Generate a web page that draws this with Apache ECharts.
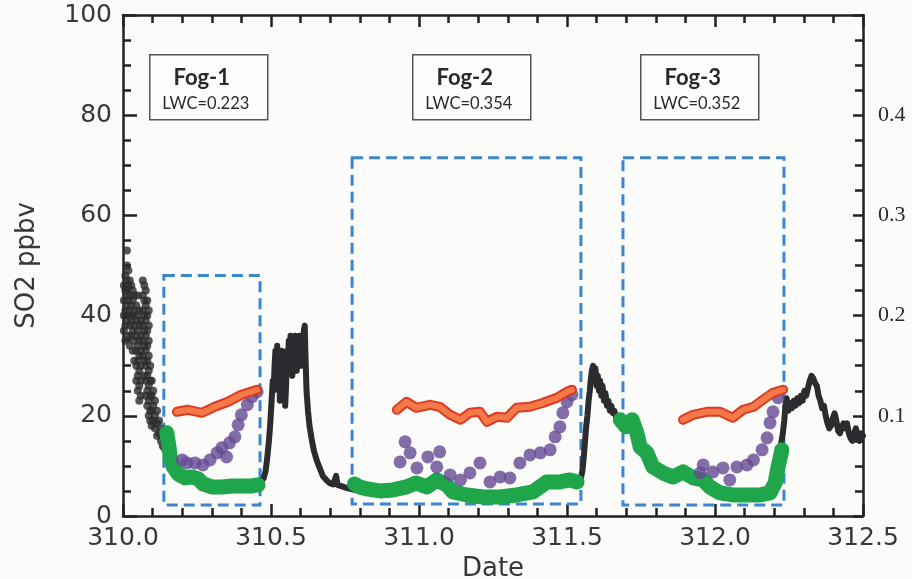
<!DOCTYPE html>
<html>
<head>
<meta charset="utf-8">
<script src="https://cdn.jsdelivr.net/npm/echarts@6/dist/echarts.min.js"></script>
<style>
  html, body { margin: 0; padding: 0; background: #fbfbf9; }
  #main { width: 912px; height: 579px; }
</style>
</head>
<body>
<div id="main"></div>
<script>
// SO2 (ppbv) – early morning scatter, read as columns [date, [values]]
var so2EarlyCols = [
    [310.003, [46, 43, 40, 37]],
    [310.008, [48, 45, 41, 38, 35]],
    [310.013, [53, 50, 47, 44, 42, 39]],
    [310.018, [49, 46, 43, 40, 36]],
    [310.023, [47, 44, 41, 38, 34]],
    [310.028, [46, 42, 39, 36]],
    [310.033, [45, 43, 40, 37, 33]],
    [310.038, [44, 41, 38, 35, 31]],
    [310.045, [42, 39, 36, 33, 30, 27]],
    [310.050, [44, 40, 37, 34, 31, 28, 25]],
    [310.055, [41, 38, 35, 32, 29, 26, 23]],
    [310.060, [39, 36, 33, 30, 27, 24]],
    [310.067, [47, 44, 41, 38, 35, 32]],
    [310.072, [46, 43, 40, 37, 34, 31, 28]],
    [310.077, [45, 42, 39, 36, 33, 30, 27, 24]],
    [310.082, [43, 40, 37, 34, 31, 28, 25, 22]],
    [310.087, [41, 38, 35, 32, 29, 26, 23, 20]],
    [310.092, [30, 27, 24, 21, 19]],
    [310.097, [27, 24, 21, 18]],
    [310.102, [25, 22, 19]],
    [310.108, [23, 20, 17.5]],
    [310.115, [21, 18.5, 16]],
    [310.122, [19, 16.5]],
    [310.128, [17.5, 15]],
    [310.134, [16, 14]],
    [310.140, [15, 13.5]]
];

// SO2 trace after fog-1
var so2Noon = [
    [310.455, 6.5], [310.465, 6.8], [310.475, 7.5], [310.482, 9], [310.488, 12], [310.493, 15],
    [310.497, 18], [310.500, 21], [310.503, 24], [310.506, 27], [310.509, 25], [310.512, 30],
    [310.515, 33], [310.518, 28], [310.521, 34], [310.524, 26], [310.527, 31], [310.530, 23],
    [310.533, 29], [310.536, 33], [310.539, 27], [310.542, 24], [310.545, 30], [310.548, 22],
    [310.551, 26], [310.554, 33], [310.557, 29], [310.560, 35], [310.563, 30], [310.566, 36],
    [310.569, 31], [310.572, 28], [310.575, 34], [310.578, 30], [310.581, 36], [310.584, 32],
    [310.587, 29], [310.590, 35], [310.593, 31], [310.596, 36], [310.599, 33], [310.602, 30],
    [310.605, 35], [310.608, 32], [310.611, 37], [310.614, 38], [310.616, 33], [310.618, 29],
    [310.620, 25], [310.625, 21], [310.630, 18], [310.637, 15.5], [310.645, 13], [310.655, 11],
    [310.665, 9.5], [310.675, 8], [310.690, 7], [310.700, 6.5], [310.710, 6.3], [310.720, 8],
    [310.725, 6.2], [310.735, 6], [310.745, 5.8], [310.760, 5.5], [310.775, 5.3], [310.790, 5.2]
];

// SO2 trace after fog-2
var so2Day2 = [
    [311.535, 6.5], [311.545, 7], [311.552, 9], [311.557, 12], [311.561, 15], [311.565, 18],
    [311.569, 20], [311.573, 23], [311.577, 25], [311.580, 27], [311.584, 29], [311.588, 30],
    [311.592, 28], [311.596, 29.5], [311.600, 26], [311.604, 28], [311.608, 25], [311.612, 27],
    [311.616, 24], [311.620, 26], [311.625, 23], [311.630, 24.5], [311.635, 22], [311.640, 23],
    [311.645, 21], [311.650, 22], [311.655, 20.5], [311.660, 21], [311.667, 19.5], [311.675, 19.5],
    [311.685, 19]
];

// SO2 trace after fog-3
var so2Late = [
    [312.222, 14], [312.228, 16], [312.234, 19], [312.238, 22], [312.242, 23.5], [312.248, 21],
    [312.254, 22.5], [312.260, 21.5], [312.266, 23], [312.272, 22], [312.278, 23.5], [312.284, 22.5],
    [312.290, 24], [312.296, 23], [312.302, 25], [312.308, 24], [312.314, 25.5], [312.320, 27],
    [312.326, 28], [312.332, 27.5], [312.338, 26.5], [312.344, 26], [312.350, 24], [312.356, 23],
    [312.362, 21.5], [312.368, 22], [312.374, 20], [312.380, 18.5], [312.386, 17.5], [312.392, 18],
    [312.398, 19.5], [312.404, 20.5], [312.410, 19], [312.416, 17], [312.422, 16.5], [312.428, 17.5],
    [312.434, 18.5], [312.440, 17.5], [312.446, 18.5], [312.452, 16.5], [312.458, 15.5], [312.464, 15],
    [312.470, 16.5], [312.476, 17.5], [312.482, 16], [312.488, 15], [312.494, 16.5], [312.500, 16]
];

// green (SO2 during fog)
var greenFog1 = [
    [310.148, 16.6], [310.155, 14], [310.160, 11.5], [310.170, 9.8], [310.186, 8.4], [310.210, 7.6],
    [310.233, 7.8], [310.254, 7.4], [310.270, 6.4], [310.300, 5.8], [310.335, 5.8], [310.368, 6.0],
    [310.400, 6.0], [310.436, 6.0], [310.456, 6.2]
];
var greenFog2 = [
    [310.782, 6.4], [310.800, 5.8], [310.824, 5.4], [310.868, 5.0], [310.912, 5.2], [310.958, 5.8],
    [310.990, 6.6], [311.027, 5.8], [311.060, 7.2], [311.094, 6.2], [311.115, 4.8], [311.162, 4.2],
    [311.216, 3.8], [311.273, 3.8], [311.330, 4.2], [311.385, 4.8], [311.432, 6.8], [311.476, 6.8],
    [311.510, 7.2], [311.534, 6.8]
];
var greenFog3 = [
    [311.680, 19.2], [311.700, 17.8], [311.720, 19.2], [311.736, 16.6], [311.747, 13.8], [311.770, 12.6],
    [311.790, 9.8], [311.824, 8.6], [311.858, 7.8], [311.892, 8.8], [311.926, 7.6], [311.960, 7.2],
    [311.983, 5.8], [312.017, 4.6], [312.060, 4.2], [312.108, 4.2], [312.152, 4.2], [312.186, 4.6],
    [312.203, 6.6], [312.213, 9.8], [312.226, 13.2]
];

// purple points
var purplePts = [
    [310.200, 11.2], [310.216, 10.6], [310.243, 10.6], [310.270, 10.2], [310.294, 11.2], [310.318, 12.6],
    [310.334, 13.6], [310.350, 11.8], [310.360, 14.6], [310.378, 15.8], [310.389, 18.2], [310.400, 20.2],
    [310.420, 22.2], [310.436, 23.8], [310.453, 24.8],
    [310.953, 14.8], [310.936, 10.8], [310.970, 12.6], [310.993, 9.6], [311.030, 11.8], [311.070, 12.8],
    [311.060, 9.8], [311.105, 8.2], [311.140, 7.2], [311.172, 8.6], [311.206, 10.6], [311.240, 6.8],
    [311.274, 7.8], [311.307, 7.6], [311.341, 10.6], [311.375, 12.2], [311.410, 12.6], [311.443, 13.2],
    [311.460, 15.8], [311.476, 17.8], [311.486, 20.6], [311.500, 22.8], [311.517, 24.2],
    [311.960, 10.2], [311.950, 8.6], [311.993, 8.8], [312.027, 9.6], [312.050, 7.2], [312.074, 9.8],
    [312.108, 10.2], [312.130, 11.2], [312.159, 13.2], [312.176, 15.6], [312.186, 18.6], [312.196, 20.8],
    [312.213, 23.6]
];

// orange traces
var orangeFog1 = [
    [310.182, 20.8], [310.220, 21.2], [310.267, 20.6], [310.310, 21.8], [310.355, 22.8], [310.400, 24.2],
    [310.453, 25.2]
];
var orangeFog2 = [
    [310.925, 21.2], [310.958, 22.8], [310.990, 21.6], [311.037, 22.2], [311.070, 21.8], [311.105, 20.2],
    [311.140, 19.2], [311.172, 20.6], [311.206, 20.8], [311.230, 18.8], [311.263, 19.8], [311.297, 19.6],
    [311.330, 21.6], [311.375, 21.8], [311.420, 22.6], [311.466, 23.6], [311.500, 24.8], [311.517, 25.2]
];
var orangeFog3 = [
    [311.892, 19.2], [311.926, 20.2], [311.973, 20.8], [312.017, 20.8], [312.060, 19.6], [312.095, 21.2],
    [312.130, 21.8], [312.162, 23.2], [312.196, 24.6], [312.230, 25.2]
];

// fog periods: [start, end, top, bottom]
var fogBoxes = [
    [310.138, 310.463, 48, 2.2],
    [310.774, 311.547, 71.5, 2.4],
    [311.689, 312.233, 71.5, 2.2]
];
var fogNames = ['Fog-1', 'Fog-2', 'Fog-3'];
var fogLwc = ['LWC=0.223', 'LWC=0.354', 'LWC=0.352'];
var fogLabelLeft = [149, 412, 640];

var leftTicks = [0, 100, 20];
var rightTicks = [0, 0.5, 0.1];

var so2Early = [];
so2EarlyCols.forEach(function (c) {
    c[1].forEach(function (v) { so2Early.push([c[0], v]); });
});

var chart = echarts.init(document.getElementById('main'));

var ink = '#222222';
var axisLineStyle = { color: ink, width: 2.5 };
var labelFont = 'DejaVu Sans';

function xAxisOf(pos) {
    return {
        type: 'value', position: pos, min: 310, max: 312.5, interval: 0.5,
        axisLine: { show: true, onZero: false, lineStyle: axisLineStyle },
        axisTick: { show: true, inside: true, length: 12, lineStyle: { color: ink, width: 2.5 } },
        minorTick: { show: true, splitNumber: 5, length: 8, lineStyle: { color: ink, width: 2.5 } },
        splitLine: { show: false }
    };
}

var xBottom = xAxisOf('bottom');
xBottom.name = 'Date';
xBottom.nameLocation = 'middle';
xBottom.nameGap = 39;
xBottom.nameTextStyle = { fontFamily: labelFont, fontSize: 26, color: '#383838' };
xBottom.axisLabel = { margin: 10, fontFamily: labelFont, fontSize: 25, color: '#383838',
    formatter: function (v) { return v.toFixed(1); } };

var xTop = xAxisOf('top');
xTop.axisLabel = { show: false };

// label boxes for each fog
var graphics = [];
fogNames.forEach(function (n, i) {
    graphics.push({
        type: 'group', left: fogLabelLeft[i], top: 54,
        children: [
            { type: 'rect', shape: { x: 0, y: 0, width: 118, height: 65 },
              style: { fill: '#fdfdfc', stroke: '#555', lineWidth: 1.5 } },
            { type: 'text', x: 52, y: 23,
              style: { text: n, fontFamily: 'Lato', fontWeight: 'bold', fontSize: 22, fill: '#2a2a2a',
                       align: 'center', verticalAlign: 'middle' } },
            { type: 'text', x: 56, y: 49,
              style: { text: fogLwc[i], fontFamily: 'Lato', fontSize: 16.5, fill: '#2a2a2a',
                       align: 'center', verticalAlign: 'middle' } }
        ]
    });
});

var series = [
    { type: 'scatter', data: so2Early, symbolSize: 8, itemStyle: { color: '#2c2c30' }, z: 2 }
];
[so2Noon, so2Day2, so2Late].forEach(function (d) {
    series.push({ type: 'line', data: d, showSymbol: false, z: 2,
        lineStyle: { color: '#2c2c30', width: 6, join: 'round', cap: 'round' } });
});
[greenFog1, greenFog2, greenFog3].forEach(function (d) {
    series.push({ type: 'line', data: d, showSymbol: false, z: 3,
        lineStyle: { color: '#1fa64a', width: 15, join: 'round', cap: 'round' } });
});
series.push({ type: 'scatter', data: purplePts, symbolSize: 13, itemStyle: { color: '#654a93' }, z: 4 });
[orangeFog1, orangeFog2, orangeFog3].forEach(function (d) {
    // red rim under the orange trace
    series.push({ type: 'line', data: d, showSymbol: false, z: 5,
        lineStyle: { color: '#dc3a24', width: 10, join: 'round', cap: 'round' } });
    series.push({ type: 'line', data: d, showSymbol: false, z: 5,
        lineStyle: { color: '#f37a48', width: 6, join: 'round', cap: 'round' } });
});
series.push({
    // dashed fog windows
    type: 'scatter', data: [], z: 6,
    markArea: {
        silent: true,
        label: { show: false },
        itemStyle: { color: 'rgba(0,0,0,0)', borderColor: '#3d86cf', borderWidth: 3, borderType: [11, 6] },
        data: fogBoxes.map(function (b) {
            return [{ coord: [b[0], b[2]] }, { coord: [b[1], b[3]] }];
        })
    }
});

var option = {
    backgroundColor: '#fbfbf9',
    animation: false,
    grid: { left: 123, right: 49, top: 15, bottom: 63, outerBoundsMode: 'none', containLabel: false },
    xAxis: [xBottom, xTop],
    yAxis: [
        {
            type: 'value', position: 'left',
            min: leftTicks[0], max: leftTicks[1], interval: leftTicks[2],
            name: 'SO2 ppbv', nameLocation: 'middle', nameGap: 83,
            nameTextStyle: { fontFamily: labelFont, fontSize: 26, color: '#383838' },
            axisLine: { show: true, onZero: false, lineStyle: axisLineStyle },
            axisTick: { show: true, inside: true, length: 14, lineStyle: { color: ink, width: 2.5 } },
            minorTick: { show: true, splitNumber: 4, length: 8, lineStyle: { color: ink, width: 2.5 } },
            axisLabel: { margin: 11, fontFamily: labelFont, fontSize: 25, color: '#383838' },
            splitLine: { show: false }
        },
        {
            type: 'value', position: 'right',
            min: rightTicks[0], max: rightTicks[1], interval: rightTicks[2],
            axisLine: { show: true, onZero: false, lineStyle: axisLineStyle },
            axisTick: { show: true, inside: true, length: 10, lineStyle: { color: ink, width: 2.5 } },
            minorTick: { show: true, splitNumber: 4, length: 8, lineStyle: { color: ink, width: 2.5 } },
            axisLabel: {
                margin: 15, fontFamily: 'Liberation Serif', fontSize: 22, color: '#2a2a2a',
                formatter: function (v) { return (v > 0.05 && v < 0.45) ? v.toFixed(1) : ''; }
            },
            splitLine: { show: false }
        }
    ],
    graphic: graphics,
    series: series
};

chart.setOption(option);
</script>
</body>
</html>
